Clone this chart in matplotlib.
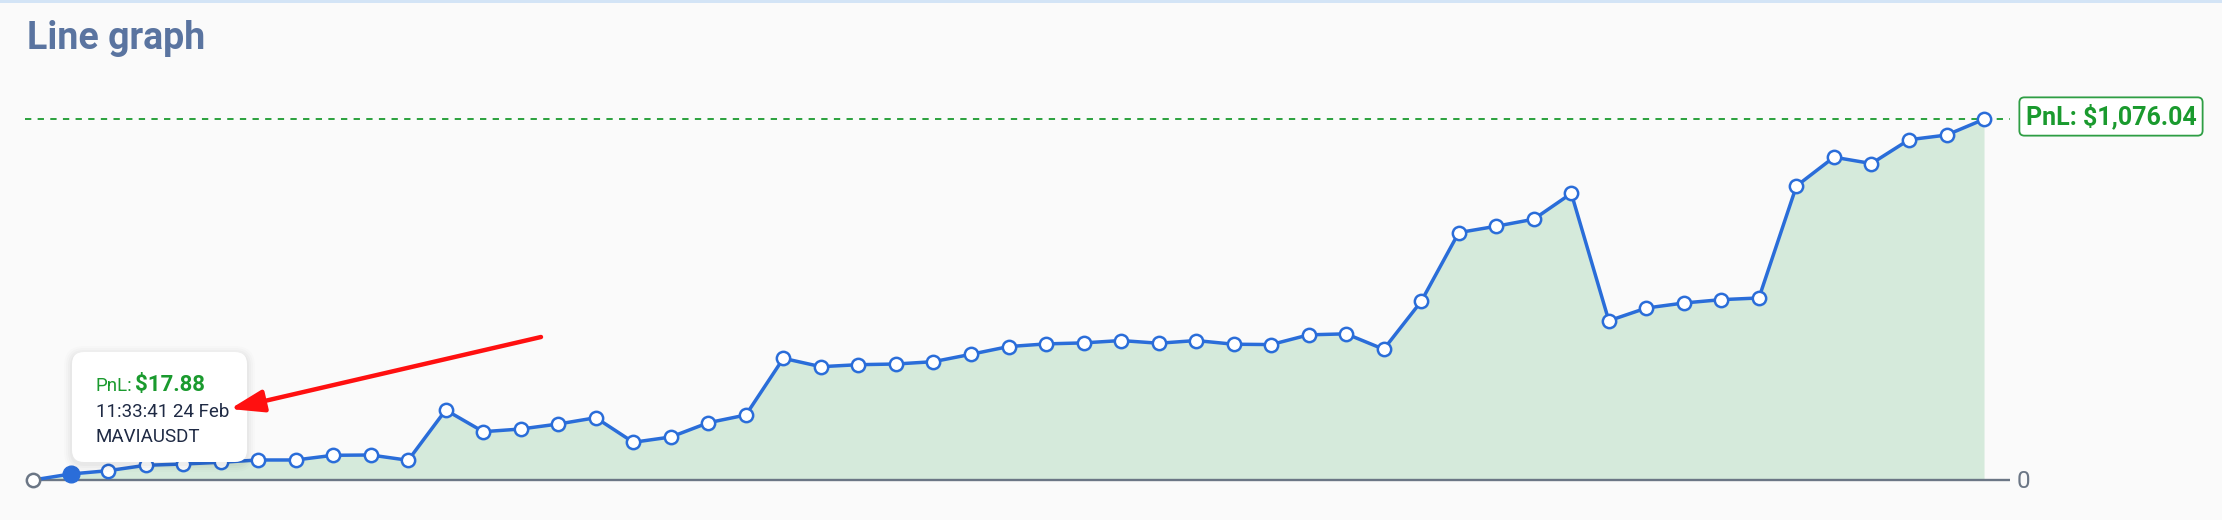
import matplotlib
matplotlib.use("Agg")
import matplotlib.pyplot as plt
from matplotlib.patches import FancyBboxPatch, FancyArrowPatch, Rectangle

# ---------------- data ----------------
pnl_values = [0, 17.88, 27.7, 43.8, 47.7, 52.8, 59.7, 59.7, 73.7, 74.6, 58.8,
              208.8, 144.1, 152.1, 167.0, 185.8, 112.5, 128.3, 170.9, 193.9, 363.0,
              338, 344, 346, 353, 375, 398, 406, 409, 416, 408, 416, 405, 404, 433,
              436, 390, 533, 738, 757, 778, 855, 475, 513, 528, 538, 543, 877, 963,
              944, 1015, 1029, 1076.04]
title_text = "Line graph"
final_label = "PnL: $1,076.04"
tooltip_value = "$17.88"
tooltip_time = "11:33:41 24 Feb"
tooltip_symbol = "MAVIAUSDT"
zero_label = "0"

# ---------------- style ----------------
W, H, DPI = 2222, 520, 100
BG = "#fafafa"
BLUE = "#2a6dd9"
FILL = "#d5eadb"
GREEN = "#1a9a2e"
AXIS = "#6b7685"
plt.rcParams['font.family'] = ['Roboto', 'DejaVu Sans']

fig = plt.figure(figsize=(W / DPI, H / DPI), dpi=DPI, facecolor=BG)

# main axes spans full figure; mapping chosen so index/value land in place
x0_px, dx_px = 33.0, 37.52
zero_px, per_px = 480.0, 2.983
ax = fig.add_axes([0, 0, 1, 1])
ax.set_facecolor(BG)
ax.set_xlim(-x0_px / dx_px, (W - x0_px) / dx_px)
ax.set_ylim(-(H - zero_px) * per_px, zero_px * per_px)
ax.axis("off")

n = len(pnl_values)
xs = list(range(n))
last = pnl_values[-1]
right_end = (2010 - x0_px) / dx_px

ax.fill_between(xs, pnl_values, 0, color=FILL, lw=0, zorder=1)
ax.hlines(0, 0, right_end, color=AXIS, lw=1.7, zorder=2)
ax.hlines(last, (25 - x0_px) / dx_px, right_end, color=GREEN, lw=1.3,
          linestyles=(0, (3.5, 3.5)), zorder=2)
ax.plot(xs, pnl_values, color=BLUE, lw=2.5, zorder=3)
ax.plot(xs[2:], pnl_values[2:], ls="none", marker="o", ms=9.6, mfc="white",
        mec=BLUE, mew=1.8, zorder=4)
ax.plot(xs[0], pnl_values[0], ls="none", marker="o", ms=9.6, mfc="white",
        mec=AXIS, mew=1.8, zorder=4)
ax.plot(xs[1], pnl_values[1], ls="none", marker="o", ms=12, mfc=BLUE,
        mec=BLUE, mew=1.0, zorder=4)

# overlay axes in pixel coordinates (y from top)
ov = fig.add_axes([0, 0, 1, 1], facecolor="none")
ov.set_xlim(0, W)
ov.set_ylim(H, 0)
ov.axis("off")

ov.add_patch(Rectangle((0, 0), W, 2.5, color="#d3e4f6", lw=0))
ov.text(27, 49, title_text, fontsize=27, fontweight="bold", color="#5a74a0",
        va="baseline", ha="left")

ov.text(2017, 481, zero_label, fontsize=17.5, color=AXIS, va="center", ha="left")

# final value label
ov.text(2111, 116.5, final_label, fontsize=18, fontweight="bold", color=GREEN,
        ha="center", va="center",
        bbox=dict(boxstyle="round,pad=0.25,rounding_size=0.2", fc="white",
                  ec="#2e9e44", lw=1.3))

# tooltip with soft shadow
bx, by, bw, bh = 72, 352, 175, 110
for grow, alpha in [(8, 0.012), (6, 0.015), (4, 0.018), (2, 0.022)]:
    ov.add_patch(FancyBboxPatch((bx - grow, by - grow + 2), bw + 2 * grow, bh + 2 * grow,
                                boxstyle="round,pad=0,rounding_size=%d" % (12 + grow),
                                fc="black", ec="none", alpha=alpha, zorder=5))
ov.add_patch(FancyBboxPatch((bx, by), bw, bh, boxstyle="round,pad=0,rounding_size=12",
                            fc="white", ec="none", zorder=6))
ov.text(95.5, 391, "PnL:", fontsize=13.5, color=GREEN, va="baseline", ha="left", zorder=7)
ov.text(135.5, 391, tooltip_value, fontsize=16, fontweight="bold", color=GREEN,
        va="baseline", ha="left", zorder=7)
ov.text(95.5, 417, tooltip_time, fontsize=13.5, color="#1f2a44", va="baseline",
        ha="left", zorder=7)
ov.text(95.5, 441.5, tooltip_symbol, fontsize=13.5, color="#1f2a44", va="baseline",
        ha="left", zorder=7)

# red arrow
arr = FancyArrowPatch((541, 337), (230, 409),
                      arrowstyle="-|>,head_length=1.2,head_width=0.4",
                      mutation_scale=17, color="#ff1010", lw=3.2,
                      shrinkA=0, shrinkB=0, zorder=8)
ov.add_patch(arr)

fig.savefig("out.png", dpi=DPI, facecolor=BG)
